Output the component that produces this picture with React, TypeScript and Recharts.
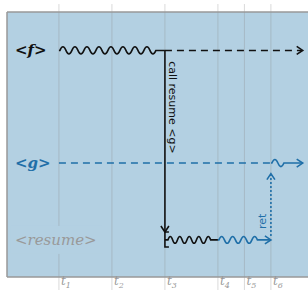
import React from 'react';
import { ComposedChart, XAxis, YAxis, CartesianGrid, ReferenceLine, ReferenceDot } from 'recharts';

// time ticks
const tickLabels = ['1', '2', '3', '4', '5', '6'];
const tickTimes = [1, 2, 3, 4, 4.5, 5];
// rows (lanes)
const rowNames = ['<f>', '<g>', '<resume>'];
const rowLevels = [85.5, 43, 14];
// events along time
const fRun = [1, 3];
const fWait = [3, 5.6];
const callSpan = [85.5, 17];
const bracketSpan = [17, 11.3];
const resumeBlackRun = [3, 4];
const resumeBlueRun = [4, 5];
const retSpan = [14, 39];
const gWait = [1, 5];
const gRun = [5, 5.6];
const callText = 'call resume <g>';
const retText = 'ret';
const callTextAt = { t: 3.15, v: 64 };
const retTextAt = { t: 4.85, v: 21 };
const labelT = 0.17;

const X_DOMAIN = [0.02, 5.7];
const Y_DOMAIN = [0, 100];
const GRID_TOP = 103;
const GRID_BOTTOM = -5;

const BG = '#b3d0e2';
const BLACK = '#111';
const BLUE = '#1f6fa8';
const GRAY = '#999';

function wavePath(x1: number, x2: number, y: number, period: number, amp: number, padStart: number, padEnd: number) {
  let d = `M${x1},${y}`;
  let x = x1 + padStart;
  d += ` L${x},${y}`;
  const end = x2 - padEnd;
  const n = Math.floor((end - x) / (period / 2));
  let sign = -1;
  for (let i = 0; i < n; i++) {
    const xm = x + period / 4;
    const xn = x + period / 2;
    d += ` Q${xm},${y + sign * 2 * amp} ${xn},${y}`;
    x = xn;
    sign = -sign;
  }
  d += ` L${x2},${y}`;
  return d;
}

const arrowRight = (x: number, y: number) => `M${x - 6},${y - 4} L${x},${y} L${x - 6},${y + 4}`;
const arrowDown = (x: number, y: number) => `M${x - 4},${y - 6} L${x},${y} L${x + 4},${y - 6}`;
const arrowUp = (x: number, y: number) => `M${x - 4},${y + 6} L${x},${y} L${x + 4},${y + 6}`;

const SW = 1.6;

const GridShape = (p: any) => (
  <line x1={p.x1} y1={p.y1} x2={p.x2} y2={p.y2} stroke="#888" strokeOpacity={0.32} strokeWidth={1} />
);

const FRunShape = (p: any) => (
  <path d={wavePath(p.x1, p.x2, p.y1, 12, 3.6, 1, 8)} fill="none" stroke={BLACK} strokeWidth={SW} />
);

const FWaitShape = (p: any) => (
  <g>
    <line x1={p.x1} y1={p.y1} x2={p.x2 - 1} y2={p.y2} stroke={BLACK} strokeWidth={SW} strokeDasharray="7 5" />
    <path d={arrowRight(p.x2, p.y2)} fill="none" stroke={BLACK} strokeWidth={SW} />
  </g>
);

const CallShape = (p: any) => (
  <g>
    <line x1={p.x1} y1={p.y1} x2={p.x2} y2={p.y2} stroke={BLACK} strokeWidth={SW} />
    <path d={arrowDown(p.x2, p.y2)} fill="none" stroke={BLACK} strokeWidth={SW} />
  </g>
);

const BracketShape = (p: any) => (
  <path d={`M${p.x1 + 4},${p.y1} L${p.x1},${p.y1} L${p.x2},${p.y2} L${p.x2 + 4},${p.y2}`} fill="none" stroke={BLACK} strokeWidth={SW} />
);

const ResumeBlackShape = (p: any) => (
  <path d={wavePath(p.x1, p.x2, p.y1, 9.5, 3.4, 3, 5)} fill="none" stroke={BLACK} strokeWidth={SW} />
);

const ResumeBlueShape = (p: any) => (
  <g>
    <path d={wavePath(p.x1, p.x2, p.y1, 11, 3.4, 1, 8)} fill="none" stroke={BLUE} strokeWidth={SW} />
    <path d={arrowRight(p.x2, p.y2)} fill="none" stroke={BLUE} strokeWidth={SW} />
  </g>
);

const RetShape = (p: any) => (
  <g>
    <line x1={p.x1} y1={p.y1 - 4} x2={p.x2} y2={p.y2} stroke={BLUE} strokeWidth={SW} strokeDasharray="2 2" />
    <path d={arrowUp(p.x2, p.y2)} fill="none" stroke={BLUE} strokeWidth={SW} />
  </g>
);

const GWaitShape = (p: any) => (
  <line x1={p.x1} y1={p.y1} x2={p.x2} y2={p.y2} stroke={BLUE} strokeWidth={SW} strokeDasharray="7 5" />
);

const GRunShape = (p: any) => (
  <g>
    <path d={wavePath(p.x1, p.x2, p.y1, 12, 3.6, 1, 17)} fill="none" stroke={BLUE} strokeWidth={SW} />
    <path d={arrowRight(p.x2, p.y2)} fill="none" stroke={BLUE} strokeWidth={SW} />
  </g>
);

const rowStyles = [
  { fill: BLACK, fontWeight: 'bold' as const },
  { fill: BLUE, fontWeight: 'bold' as const },
  { fill: GRAY, fontWeight: 'normal' as const },
];

const makeLabelShape = (i: number) => (p: any) => {
  const s = rowStyles[i];
  return (
    <g>
      {i === 2 && <rect x={p.cx - 4} y={p.cy - 14} width={92} height={28} fill={BG} />}
      <text
        x={p.cx}
        y={p.cy}
        dominantBaseline="central"
        fontFamily="DejaVu Serif"
        fontStyle="italic"
        fontWeight={s.fontWeight}
        fontSize={15}
        fill={s.fill}
      >
        {rowNames[i]}
      </text>
    </g>
  );
};

const CallTextShape = (p: any) => (
  <text
    x={p.cx}
    y={p.cy}
    transform={`rotate(90, ${p.cx}, ${p.cy})`}
    textAnchor="middle"
    dominantBaseline="central"
    fontFamily="DejaVu Sans"
    fontSize={11}
    fill={BLACK}
  >
    {callText}
  </text>
);

const RetTextShape = (p: any) => (
  <text
    x={p.cx}
    y={p.cy}
    transform={`rotate(-90, ${p.cx}, ${p.cy})`}
    textAnchor="middle"
    dominantBaseline="central"
    fontFamily="DejaVu Sans"
    fontSize={11}
    fill={BLUE}
  >
    {retText}
  </text>
);

const TimeTick = (p: any) => {
  const idx = tickTimes.indexOf(p.payload.value);
  return (
    <text x={p.x + 2} y={p.y + 8} fill={GRAY} fontFamily="DejaVu Serif" fontStyle="italic" fontSize={12}>
      t
      <tspan fontSize={8} dy={2.5}>
        {tickLabels[idx]}
      </tspan>
    </text>
  );
};

const data = tickTimes.map((t) => ({ t }));

export default function App() {
  return (
    <div style={{ position: 'absolute', left: 0, top: 0 }}>
      <ComposedChart width={308} height={290} data={data} margin={{ top: 12, right: 0, bottom: 0, left: 0 }}>
        <CartesianGrid fill={BG} horizontal={false} vertical={false} stroke="none" />
        <XAxis
          type="number"
          dataKey="t"
          domain={X_DOMAIN}
          ticks={tickTimes}
          interval={0}
          height={13}
          allowDataOverflow
          axisLine={{ stroke: GRAY, strokeWidth: 1.5 }}
          tickLine={false}
          tickSize={0}
          tickMargin={0}
          tick={<TimeTick />}
        />
        <YAxis
          type="number"
          domain={Y_DOMAIN}
          width={7}
          allowDataOverflow
          axisLine={{ stroke: GRAY, strokeWidth: 1.5 }}
          tick={false}
          tickLine={false}
        />
        {tickTimes.map((t) => (
          <ReferenceLine
            key={'grid' + t}
            segment={[{ x: t, y: GRID_TOP }, { x: t, y: GRID_BOTTOM }]}
            ifOverflow="visible"
            shape={GridShape}
          />
        ))}
        <ReferenceLine y={Y_DOMAIN[1]} stroke={GRAY} strokeWidth={1.5} ifOverflow="visible" />
        <ReferenceLine segment={[{ x: gWait[0], y: rowLevels[1] }, { x: gWait[1], y: rowLevels[1] }]} shape={GWaitShape} />
        <ReferenceLine segment={[{ x: gRun[0], y: rowLevels[1] }, { x: gRun[1], y: rowLevels[1] }]} shape={GRunShape} />
        <ReferenceLine segment={[{ x: fRun[0], y: rowLevels[0] }, { x: fRun[1], y: rowLevels[0] }]} shape={FRunShape} />
        <ReferenceLine segment={[{ x: fWait[0], y: rowLevels[0] }, { x: fWait[1], y: rowLevels[0] }]} shape={FWaitShape} />
        <ReferenceLine segment={[{ x: fRun[1], y: callSpan[0] }, { x: fRun[1], y: callSpan[1] }]} shape={CallShape} />
        <ReferenceLine segment={[{ x: fRun[1], y: bracketSpan[0] }, { x: fRun[1], y: bracketSpan[1] }]} shape={BracketShape} />
        <ReferenceLine segment={[{ x: resumeBlackRun[0], y: rowLevels[2] }, { x: resumeBlackRun[1], y: rowLevels[2] }]} shape={ResumeBlackShape} />
        <ReferenceLine segment={[{ x: resumeBlueRun[0], y: rowLevels[2] }, { x: resumeBlueRun[1], y: rowLevels[2] }]} shape={ResumeBlueShape} />
        <ReferenceLine segment={[{ x: resumeBlueRun[1], y: retSpan[0] }, { x: resumeBlueRun[1], y: retSpan[1] }]} shape={RetShape} />
        {rowLevels.map((v, i) => (
          <ReferenceDot key={'lab' + i} x={labelT} y={v} shape={makeLabelShape(i)} />
        ))}
        <ReferenceDot x={callTextAt.t} y={callTextAt.v} shape={CallTextShape} />
        <ReferenceDot x={retTextAt.t} y={retTextAt.v} shape={RetTextShape} />
      </ComposedChart>
    </div>
  );
}
